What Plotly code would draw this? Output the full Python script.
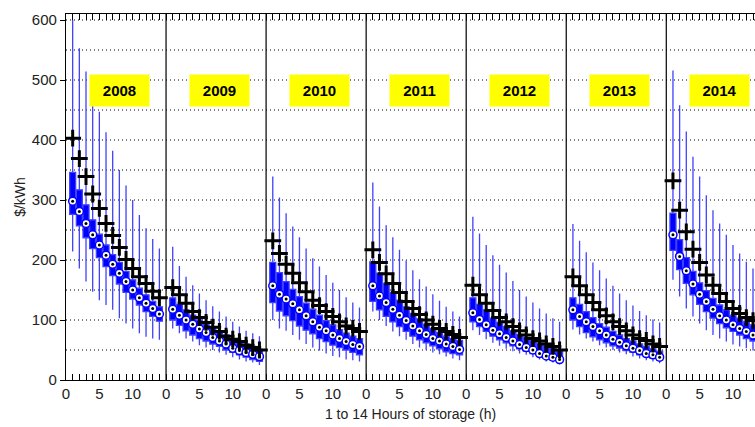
import plotly.graph_objects as go

years = ["2008", "2009", "2010", "2011", "2012", "2013", "2014"]
hours = list(range(1, 15))
tick_labels = {0: "0", 5: "5", 10: "10"}

high_2008 = [600, 553, 514, 460, 447, 413, 382, 350, 324, 300, 275, 253, 235, 219]
q3_2008 = [346, 317, 292, 267, 243, 225, 209, 196, 181, 167, 153, 142, 131, 122]
med_2008 = [298, 281, 261, 242, 225, 208, 193, 178, 164, 150, 137, 128, 119, 110]
q1_2008 = [276, 257, 237, 219, 204, 189, 174, 160, 146, 135, 125, 114, 106, 98]
low_2008 = [214, 186, 164, 147, 133, 125, 117, 103, 94, 86, 78, 72, 69, 67]
mean_2008 = [403, 369, 339, 310, 286, 261, 241, 221, 201, 186, 172, 161, 148, 137]

high_2009 = [222, 190, 172, 158, 144, 133, 123, 114, 106, 97, 89, 82, 78, 73]
q3_2009 = [137, 126, 117, 108, 100, 93, 88, 82, 75, 69, 64, 60, 56, 51]
med_2009 = [118, 108, 100, 93, 85, 79, 71, 65, 60, 53, 49, 46, 43, 39]
q1_2009 = [100, 91, 82, 75, 69, 65, 60, 56, 50, 46, 42, 38, 34, 31]
low_2009 = [86, 78, 69, 64, 58, 54, 50, 46, 42, 38, 34, 31, 29, 25]
mean_2009 = [154, 142, 128, 114, 104, 96, 88, 81, 73, 68, 64, 58, 54, 50]

high_2010 = [339, 304, 278, 256, 238, 219, 203, 189, 175, 162, 150, 138, 129, 121]
q3_2010 = [196, 179, 164, 151, 139, 128, 118, 108, 99, 92, 84, 78, 73, 69]
med_2010 = [157, 143, 135, 127, 117, 107, 97, 88, 82, 75, 69, 64, 59, 56]
q1_2010 = [129, 115, 107, 99, 90, 83, 77, 69, 64, 58, 54, 50, 46, 42]
low_2010 = [100, 86, 82, 75, 67, 60, 54, 49, 44, 40, 38, 34, 33, 31]
mean_2010 = [232, 211, 193, 178, 162, 147, 133, 124, 114, 106, 97, 90, 86, 81]

high_2011 = [329, 289, 258, 238, 217, 199, 183, 168, 156, 143, 132, 122, 114, 106]
q3_2011 = [197, 178, 161, 146, 133, 122, 111, 102, 93, 86, 79, 73, 69, 66]
med_2011 = [157, 140, 129, 118, 108, 99, 90, 82, 76, 69, 65, 60, 56, 51]
q1_2011 = [131, 117, 106, 97, 89, 81, 73, 67, 62, 57, 52, 47, 44, 42]
low_2011 = [114, 100, 90, 81, 73, 67, 60, 54, 50, 46, 43, 39, 36, 33]
mean_2011 = [217, 196, 177, 161, 146, 131, 119, 109, 100, 93, 86, 81, 76, 71]

high_2012 = [272, 244, 225, 208, 192, 179, 165, 150, 139, 129, 119, 111, 103, 97]
q3_2012 = [137, 126, 117, 103, 96, 89, 82, 76, 71, 66, 61, 57, 53, 49]
med_2012 = [112, 101, 92, 83, 77, 71, 65, 59, 54, 50, 44, 40, 38, 34]
q1_2012 = [97, 89, 81, 73, 67, 62, 57, 52, 48, 44, 40, 36, 33, 30]
low_2012 = [83, 75, 68, 62, 57, 52, 48, 44, 42, 38, 34, 31, 29, 26]
mean_2012 = [158, 142, 128, 116, 104, 97, 89, 82, 75, 69, 65, 60, 56, 50]

high_2013 = [260, 232, 213, 196, 183, 169, 157, 144, 133, 124, 115, 108, 101, 96]
q3_2013 = [137, 126, 114, 104, 94, 88, 81, 75, 69, 65, 60, 56, 52, 48]
med_2013 = [117, 106, 97, 89, 82, 75, 68, 63, 57, 53, 49, 44, 42, 38]
q1_2013 = [100, 89, 79, 72, 67, 62, 57, 53, 49, 46, 42, 39, 36, 33]
low_2013 = [84, 76, 69, 64, 58, 54, 50, 46, 43, 39, 36, 33, 31, 28]
mean_2013 = [172, 157, 142, 129, 117, 107, 97, 89, 82, 75, 69, 66, 60, 56]

high_2014 = [516, 458, 414, 372, 339, 308, 283, 261, 242, 225, 211, 197, 186]
q3_2014 = [278, 234, 204, 181, 162, 149, 136, 125, 117, 108, 103, 97, 92]
med_2014 = [242, 206, 182, 160, 143, 131, 118, 107, 100, 92, 86, 81, 75]
q1_2014 = [216, 184, 161, 142, 126, 114, 103, 94, 87, 81, 75, 69, 65]
low_2014 = [167, 139, 119, 106, 94, 83, 75, 69, 64, 59, 56, 53, 49]
mean_2014 = [332, 283, 247, 218, 196, 175, 158, 144, 131, 119, 111, 104, 99]

stats = {
    "2008": (low_2008, q1_2008, med_2008, q3_2008, high_2008, mean_2008),
    "2009": (low_2009, q1_2009, med_2009, q3_2009, high_2009, mean_2009),
    "2010": (low_2010, q1_2010, med_2010, q3_2010, high_2010, mean_2010),
    "2011": (low_2011, q1_2011, med_2011, q3_2011, high_2011, mean_2011),
    "2012": (low_2012, q1_2012, med_2012, q3_2012, high_2012, mean_2012),
    "2013": (low_2013, q1_2013, med_2013, q3_2013, high_2013, mean_2013),
    "2014": (low_2014, q1_2014, med_2014, q3_2014, high_2014, mean_2014),
}

PANEL = 15  # hours span of each year panel
fig = go.Figure()

for i, yr in enumerate(years):
    low, q1, med, q3, high, mean = stats[yr]
    n = len(med)
    xs = [i * PANEL + h for h in hours[:n]]
    fig.add_trace(go.Box(
        x=xs, q1=q1, median=med, q3=q3, lowerfence=low, upperfence=high,
        width=0.9, whiskerwidth=0, boxpoints=False,
        fillcolor="#0000ff", line=dict(color="#4242ff", width=1.3),
        showlegend=False, hoverinfo="skip"))

for i, yr in enumerate(years):
    low, q1, med, q3, high, mean = stats[yr]
    n = len(med)
    xs = [i * PANEL + h for h in hours[:n]]
    fig.add_trace(go.Scatter(
        x=xs, y=med, mode="markers",
        marker=dict(symbol="circle", size=8, color="white",
                    line=dict(color="#0000ff", width=1.5)),
        showlegend=False, hoverinfo="skip"))
    fig.add_trace(go.Scatter(
        x=xs, y=med, mode="markers",
        marker=dict(symbol="circle", size=3, color="black", line=dict(width=0)),
        showlegend=False, hoverinfo="skip"))
    fig.add_trace(go.Scatter(
        x=xs, y=mean, mode="markers",
        marker=dict(symbol="cross-thin", size=12, color="black",
                    line=dict(color="black", width=3)),
        showlegend=False, hoverinfo="skip"))

# panel separators
for i in range(1, len(years)):
    fig.add_shape(type="line", x0=i * PANEL, x1=i * PANEL, y0=0, y1=1,
                  xref="x", yref="paper", line=dict(color="black", width=1.2))

# year labels
for i, yr in enumerate(years):
    fig.add_annotation(x=i * PANEL + 8, y=483, text="<b>%s</b>" % yr,
                       showarrow=False, bgcolor="#ffff00", width=57, height=29,
                       font=dict(family="Arial, Liberation Sans", size=15, color="black"))

tickvals, ticktext = [], []
for i in range(len(years)):
    for h in range(0, PANEL):
        tickvals.append(i * PANEL + h)
        ticktext.append(tick_labels.get(h, ""))

fig.update_layout(
    width=755, height=427,
    margin=dict(l=66, r=0, t=14, b=47),
    paper_bgcolor="white", plot_bgcolor="white",
    font=dict(family="Arial, Liberation Sans", size=15, color="#222222"),
    xaxis=dict(range=[0, 103.3], tickvals=tickvals, ticktext=ticktext,
               ticks="inside", ticklen=6, tickwidth=1, tickcolor="black",
               showline=True, linecolor="black", linewidth=1.2, mirror="ticks",
               showgrid=False, zeroline=False,
               title=dict(text="1 to 14 Hours of storage (h)", font=dict(size=14), standoff=8)),
    yaxis=dict(range=[0, 610], tickvals=[0, 100, 200, 300, 400, 500, 600],
               ticks="outside", ticklen=5, tickcolor="black",
               showline=True, linecolor="black", linewidth=1.2,
               showgrid=False, zeroline=False,
               title=dict(text="$/kWh", font=dict(size=14), standoff=2)),
)

# dotted horizontal grid every 50
for v in range(50, 601, 50):
    fig.add_shape(type="line", x0=0, x1=1, xref="paper", y0=v, y1=v, yref="y",
                  line=dict(color="black", width=1, dash="1px,3px"), layer="below")

fig.write_html("out.html")
